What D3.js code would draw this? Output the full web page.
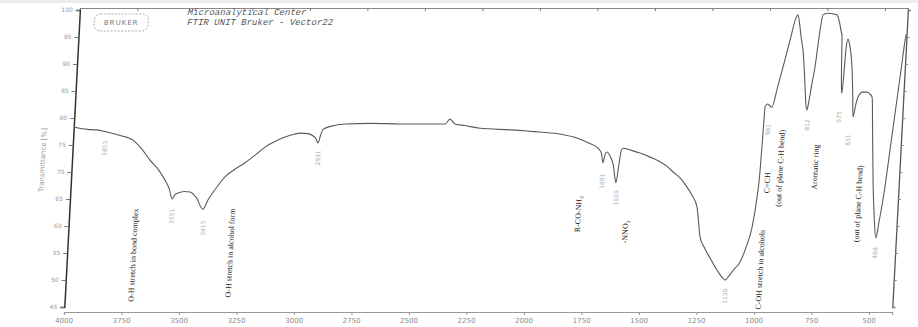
<!DOCTYPE html>
<html>
<head>
<meta charset="utf-8">
<script src="https://cdn.jsdelivr.net/npm/d3@7"></script>
<style>
  body { margin: 0; background: #fff; }
  svg { display: block; }
</style>
</head>
<body>
<svg id="chart"></svg>
<script>
// spectrum (wavenumber cm-1, transmittance %)
const wavenumbers = [3998, 3940, 3900, 3855, 3800, 3740, 3700, 3661, 3620, 3591, 3570, 3556, 3545, 3532, 3505, 3480, 3450, 3420, 3400, 3372,
  3331, 3290, 3247, 3200, 3164, 3120, 3079, 3040, 3015, 2980, 2958, 2945, 2934, 2925, 2915, 2880, 2821, 2700, 2582, 2450,
  2386, 2366, 2343, 2300, 2233, 2100, 1972, 1880, 1810, 1760, 1716, 1700, 1691, 1683, 1676, 1660, 1645, 1636, 1630, 1622,
  1614, 1607, 1570, 1532, 1490, 1443, 1410, 1384, 1350, 1320, 1295, 1272, 1252, 1228, 1204, 1170, 1140, 1133, 1120, 1100,
  1073, 1050, 1028, 1015, 1006, 1002, 999, 990, 980, 969, 950, 930, 905, 885, 877, 868, 856, 847, 830, 822,
  816, 810, 800, 791, 780, 768, 750, 725, 707, 695, 685, 681, 676, 671, 668, 664, 660, 654, 645, 630,
  620, 614, 605, 597, 578, 559, 548, 536, 528, 520, 512, 500, 487, 478, 460, 446, 430, 415, 406, 402];
const transmittance = [78.3, 77.9, 77.8, 77.4, 76.8, 75.9, 74.3, 72.2, 70.3, 68.5, 66.8, 65.0, 65.8, 66.1, 66.4, 66.3, 65.2, 63.1, 64.8, 66.7,
  69.1, 70.5, 71.7, 73.3, 74.6, 75.7, 76.5, 77.0, 77.2, 77.1, 76.7, 76.2, 75.4, 76.8, 77.9, 78.5, 78.9, 79.0, 78.9, 78.9,
  78.9, 79.8, 78.9, 78.6, 78.1, 77.8, 77.4, 77.0, 76.3, 75.4, 74.4, 73.5, 71.7, 73.4, 73.7, 72.8, 71.2, 69.0, 68.0, 71.0,
  74.0, 74.4, 74.0, 73.5, 72.8, 71.9, 71.0, 70.0, 68.8, 67.2, 65.6, 63.5, 58.0, 55.8, 54.1, 51.8, 50.2, 50.0, 50.6, 51.8,
  53.3, 56.0, 59.8, 64.5, 70.4, 77.2, 82.0, 82.6, 82.3, 82.0, 85.5, 89.4, 94.5, 98.5, 99.1, 97.5, 94.5, 92.6, 86.0, 82.5,
  81.5, 83.0, 86.5, 89.4, 95.0, 99.1, 99.4, 99.3, 99.1, 97.8, 96.0, 95.4, 90.0, 85.5, 84.6, 88.0, 93.0, 94.6, 93.5, 89.4,
  84.0, 80.2, 82.5, 83.9, 84.8, 84.8, 84.5, 83.9, 79.0, 73.5, 68.0, 62.0, 57.8, 60.5, 67.0, 74.0, 82.0, 89.5, 94.1, 95.5];

const xTicks = [4000, 3750, 3500, 3250, 3000, 2750, 2500, 2250, 2000, 1750, 1500, 1250, 1000, 750, 500];
const yTicks = [100, 95, 90, 85, 80, 75, 70, 65, 60, 55, 50, 45];

// small grey peak numbers
const peakLabels = ["3853", "3551", "3415", "2931", "1691", "1626", "1130", "981", "812", "675", "631", "488"];
const peakWn = [3860, 3553, 3415, 2931, 1691, 1626, 1130, 981, 812, 675, 631, 488];
const peakT = [74.4, 61.8, 59.6, 72.6, 68.3, 65.2, 47.0, 77.8, 78.7, 80.2, 75.9, 55.0];

// band assignments
const noteTexts = ["O-H stretch in bond complex", "O-H stretch in alcohol form", "R-CO-NH\u2082", "-NNO\u2082",
  "C-OH stretch in alcohols", "C=CH", "(out of plane C-H bend)", "Aromatic ring", "(out of plane C-H bend)"];
const noteWn = [3713, 3292, 1788, 1580, 984, 973, 920, 768, 573];
const noteT = [54.6, 55.0, 62.2, 58.9, 51.9, 68.0, 70.7, 70.9, 64.1];

const width = 918, height = 327;
const plotW = 828, plotH = 304;

const svg = d3.select("#chart")
  .attr("width", width)
  .attr("height", height);

// faint scanner edge at the top
svg.append("rect")
  .attr("x", 0).attr("y", 0).attr("width", width).attr("height", 3)
  .attr("fill", "#ececec");

// the scan is slightly sheared, so the whole plot leans
const g = svg.append("g")
  .attr("transform", "translate(80,8) skewX(-3)");

const x = d3.scaleLinear().domain([4000, 400]).range([0, plotW]);
const y = d3.scaleLinear().domain([45, 100]).range([299, 2]);

// bottom axis
const xAxis = g.append("g")
  .attr("transform", `translate(0,${plotH})`)
  .call(d3.axisBottom(x).tickValues(xTicks).tickSize(3).tickPadding(3).tickFormat(d3.format("d")));
xAxis.select(".domain").attr("stroke", "#999").attr("stroke-width", 1.2);
xAxis.selectAll(".tick line").attr("stroke", "#999");
xAxis.selectAll("text").attr("fill", "#8a8a8a").style("font-size", "7px").style("font-family", "DejaVu Sans");

// top border
const xTop = g.append("g")
  .call(d3.axisTop(x).tickValues(xTicks).tickSize(-3).tickFormat(""));
xTop.select(".domain").attr("stroke", "#888").attr("stroke-width", 1.2);
xTop.selectAll(".tick line").attr("stroke", "#777");

// left axis
const yAxis = g.append("g")
  .call(d3.axisLeft(y).tickValues(yTicks).tickSize(4).tickPadding(3));
yAxis.select(".domain").attr("stroke", "#333").attr("stroke-width", 1.5);
yAxis.selectAll(".tick line").attr("stroke", "#777");
yAxis.selectAll("text").attr("fill", "#999").style("font-size", "6px").style("font-family", "DejaVu Sans");

// right axis
const yRight = g.append("g")
  .attr("transform", `translate(${plotW},0)`)
  .call(d3.axisRight(y).tickValues(yTicks).tickSize(3).tickFormat(""));
yRight.select(".domain").attr("stroke", "#555").attr("stroke-width", 1.3);
yRight.selectAll(".tick line").attr("stroke", "#888");

g.append("text")
  .attr("transform", `translate(-27,${plotH / 2}) rotate(-90)`)
  .attr("text-anchor", "middle")
  .attr("fill", "#999")
  .style("font-size", "7px")
  .style("font-family", "DejaVu Sans")
  .text("Transmittance [%]");

// header of the print-out
g.append("text")
  .attr("x", 108).attr("y", 7)
  .attr("fill", "#555")
  .style("font-size", "9px").style("font-family", "Liberation Mono").style("font-style", "italic")
  .text("Microanalytical Center");
g.append("text")
  .attr("x", 108).attr("y", 17)
  .attr("fill", "#555")
  .style("font-size", "9px").style("font-family", "Liberation Mono").style("font-style", "italic")
  .text("FTIR UNIT Bruker - Vector22");

g.append("rect")
  .attr("x", 15).attr("y", 6).attr("width", 54).attr("height", 17).attr("rx", 6)
  .attr("fill", "none").attr("stroke", "#999").attr("stroke-width", 0.8).attr("stroke-dasharray", "2,1.5");
g.append("text")
  .attr("x", 42).attr("y", 17)
  .attr("text-anchor", "middle")
  .attr("fill", "#777")
  .style("font-size", "7px").style("font-family", "DejaVu Sans").style("letter-spacing", "1px")
  .text("BRUKER");

// the spectrum
const pts = wavenumbers.map((d, i) => [d, transmittance[i]]);
g.append("path")
  .datum(pts)
  .attr("fill", "none")
  .attr("stroke", "#5a5a5a")
  .attr("stroke-width", 1.1)
  .attr("d", d3.line()
    .x(d => x(d[0]))
    .y(d => y(d[1]))
    .curve(d3.curveMonotoneX));

// peak numbers
g.selectAll(".peak")
  .data(peakLabels)
  .enter()
  .append("text")
  .attr("class", "peak")
  .attr("transform", (d, i) => `translate(${x(peakWn[i])},${y(peakT[i])}) rotate(-90)`)
  .attr("text-anchor", "middle")
  .attr("dy", "0.35em")
  .attr("fill", "#aaa")
  .style("font-size", "6px")
  .style("font-family", "DejaVu Sans")
  .text(d => d);

// assignments
g.selectAll(".note")
  .data(noteTexts)
  .enter()
  .append("text")
  .attr("class", "note")
  .attr("transform", (d, i) => `translate(${x(noteWn[i])},${y(noteT[i])}) rotate(-90)`)
  .attr("text-anchor", "middle")
  .attr("dy", "0.35em")
  .attr("fill", "#222")
  .style("font-size", "8px")
  .style("font-family", "Liberation Serif")
  .text(d => d);
</script>
</body>
</html>
